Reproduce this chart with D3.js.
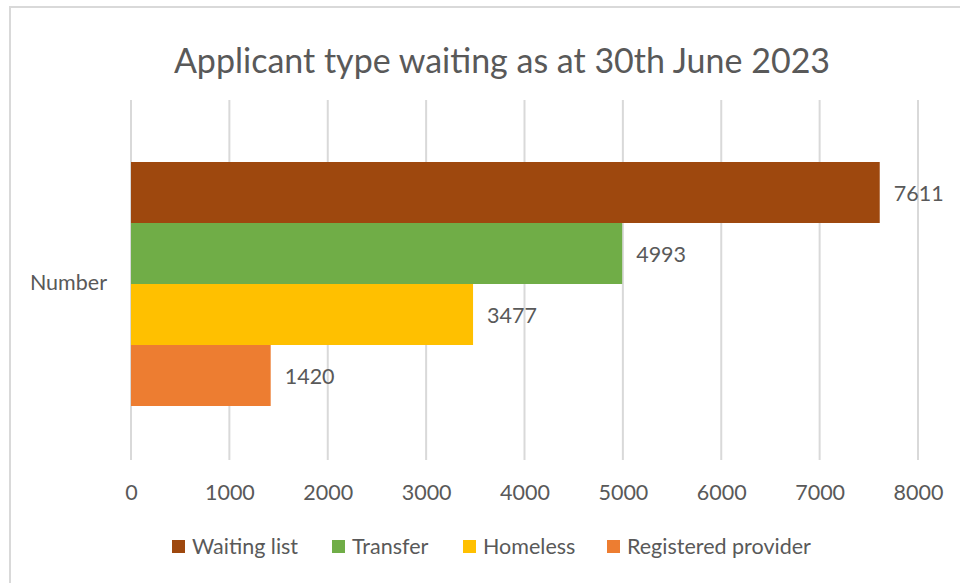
<!DOCTYPE html>
<html>
<head>
<meta charset="utf-8">
<script src="https://cdn.jsdelivr.net/npm/d3@7"></script>
<style>
  body { margin: 0; background: #fff; }
  text { font-family: Lato, "Open Sans", sans-serif; fill: #595959; }
</style>
</head>
<body>
<div id="chart"></div>
<script>
const categories = ["Number"];
const seriesNames = ["Waiting list", "Transfer", "Homeless", "Registered provider"];
const seriesValues = [7611, 4993, 3477, 1420];
const seriesColors = ["#9e480e", "#70ad47", "#ffc000", "#ed7d31"];
const xTicks = [0, 1000, 2000, 3000, 4000, 5000, 6000, 7000, 8000];

const width = 960, height = 583;
const plotLeft = 131, plotRight = 918, plotTop = 100, plotBottom = 460;
const fs = "21.5px";

const svg = d3.select("#chart").append("svg")
  .attr("width", width)
  .attr("height", height);

// chart frame (runs off the right/bottom edge like the screenshot)
svg.append("rect")
  .attr("x", 10).attr("y", 7)
  .attr("width", 1000).attr("height", 700)
  .attr("fill", "#fff")
  .attr("stroke", "#d9d9d9")
  .attr("stroke-width", 2);

const x = d3.scaleLinear().domain([0, 8000]).range([plotLeft, plotRight]);
const y = d3.scaleBand().domain(categories).range([plotTop, plotBottom]);

// gridlines
svg.append("g")
  .selectAll("line")
  .data(xTicks)
  .join("line")
  .attr("x1", d => x(d)).attr("x2", d => x(d))
  .attr("y1", plotTop).attr("y2", plotBottom)
  .attr("stroke", "#d9d9d9")
  .attr("stroke-width", 2);

// x axis labels
const xAxis = d3.axisBottom(x).tickValues(xTicks).tickFormat(d3.format("d"))
  .tickSize(0).tickPadding(0);
const gx = svg.append("g")
  .attr("transform", `translate(0,${plotBottom})`)
  .call(xAxis);
gx.select(".domain").remove();
gx.attr("font-family", null).attr("font-size", null);
gx.selectAll("text")
  .attr("dy", 0)
  .attr("y", 40)
  .style("font-size", fs);

// y axis category label
const yAxis = d3.axisLeft(y).tickSize(0).tickPadding(24);
const gy = svg.append("g")
  .attr("transform", `translate(${plotLeft},0)`)
  .call(yAxis);
gy.select(".domain").remove();
gy.attr("font-family", null).attr("font-size", null);
gy.selectAll("text")
  .attr("dy", "0.48em")
  .style("font-size", fs);

// bars
const inner = d3.scaleBand()
  .domain(seriesNames)
  .range([y("Number") + 62, y("Number") + y.bandwidth() - 54]);

const rows = seriesNames.map((s, i) => ({ name: s, value: seriesValues[i], color: seriesColors[i] }));

svg.append("g")
  .selectAll("rect")
  .data(rows)
  .join("rect")
  .attr("x", x(0))
  .attr("y", d => inner(d.name))
  .attr("width", d => x(d.value) - x(0))
  .attr("height", inner.bandwidth())
  .attr("fill", d => d.color);

svg.append("g")
  .selectAll("text")
  .data(rows)
  .join("text")
  .attr("x", d => x(d.value) + 14)
  .attr("y", d => inner(d.name) + inner.bandwidth() / 2)
  .attr("dy", "0.4em")
  .style("font-size", fs)
  .text(d => d.value);

// title
svg.append("text")
  .attr("x", 502)
  .attr("y", 73)
  .attr("text-anchor", "middle")
  .style("font-size", "34px")
  .text("Applicant type waiting as at 30th June 2023");

// legend
const legendX = [172, 332, 463, 607];
const lg = svg.append("g")
  .selectAll("g")
  .data(rows)
  .join("g")
  .attr("transform", (d, i) => `translate(${legendX[i]},546)`);
lg.append("rect")
  .attr("x", 0).attr("y", -6)
  .attr("width", 13).attr("height", 13)
  .attr("fill", d => d.color);
lg.append("text")
  .attr("x", 20)
  .attr("dy", "0.35em")
  .style("font-size", fs)
  .text(d => d.name);
</script>
</body>
</html>
